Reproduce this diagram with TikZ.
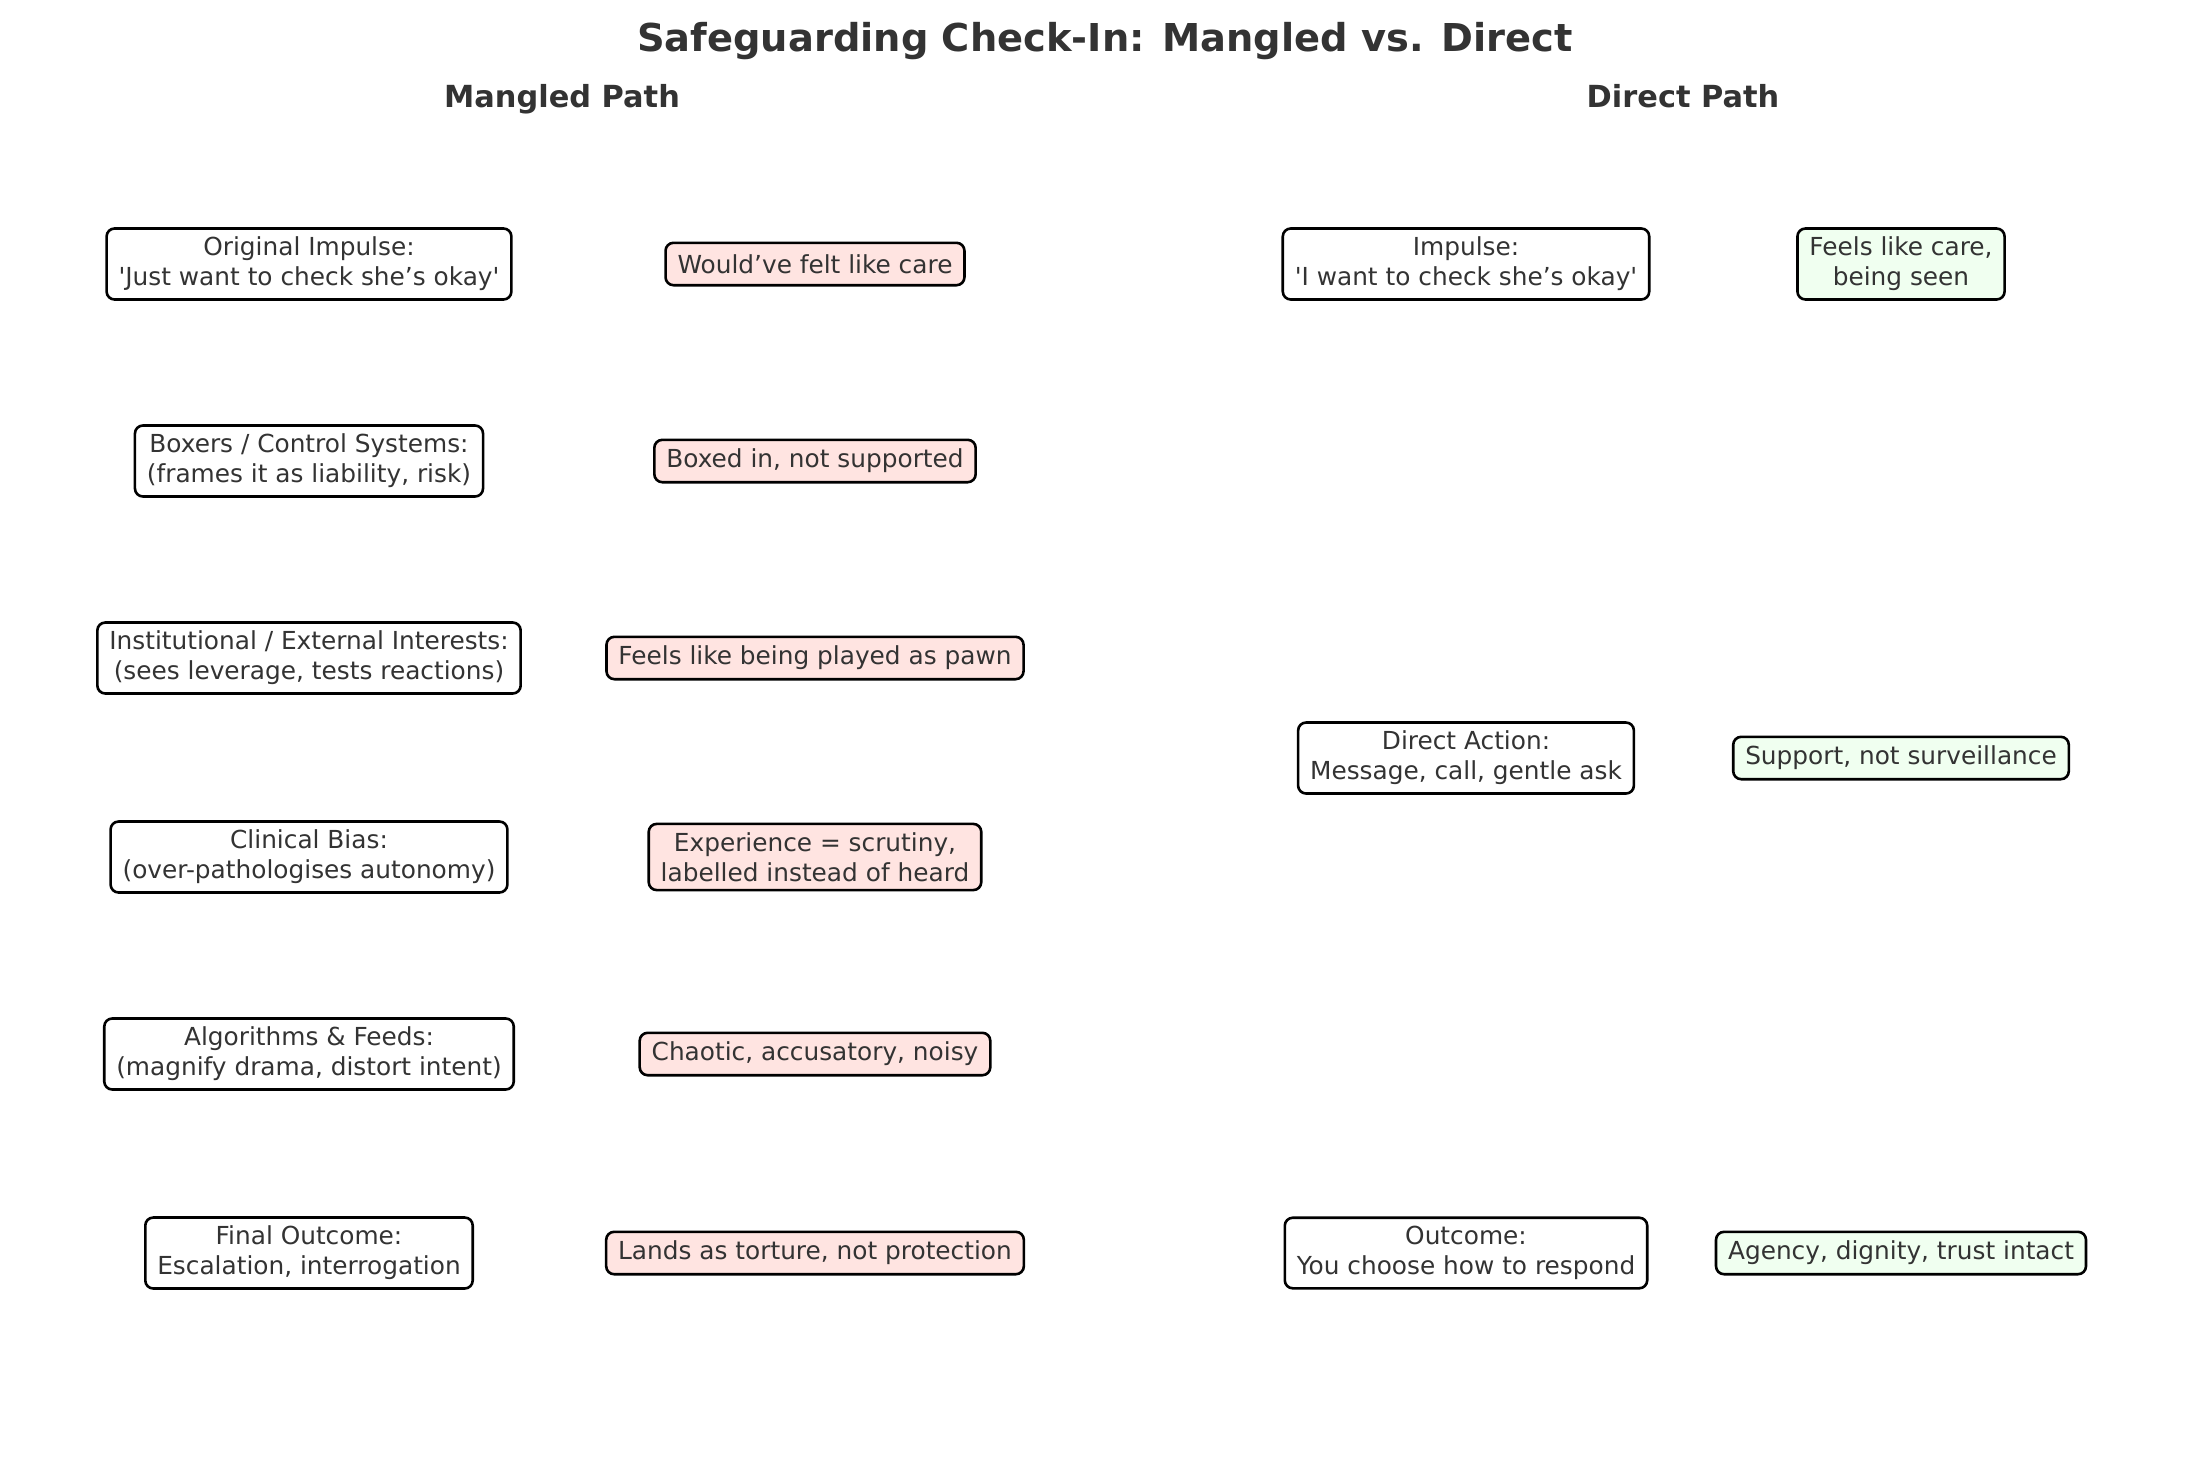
\documentclass[tikz,border=0pt]{standalone}
\usepackage{fontspec}
\setmainfont{DejaVu Sans}[Ligatures=TeXOff]
\definecolor{txt}{HTML}{333333}
\definecolor{pinkfill}{HTML}{FFE4E1}
\definecolor{greenfill}{HTML}{F0FFF0}
\begin{document}
\begin{tikzpicture}[x=0.5pt,y=-0.5pt,
  box/.style={draw=black, line width=1.3pt, rounded corners=4pt, align=center,
    text=txt, font=\fontsize{12.4}{14.9}\selectfont, inner xsep=6pt, inner ysep=4.3pt,
    minimum height=21.2pt, fill=white},
  badbox/.style={box, fill=pinkfill},
  goodbox/.style={box, fill=greenfill},
  heading/.style={text=txt, anchor=base, inner sep=0pt, font=\fontsize{15.2}{18}\selectfont\bfseries},
  titlestyle/.style={text=txt, anchor=base, inner sep=0pt, font=\fontsize{19.2}{23}\selectfont\bfseries}]
\useasboundingbox[fill=white] (0,0) rectangle (2210,1472);
\node[titlestyle] (title) at (1105,51) {Safeguarding Check-In: Mangled vs. Direct};
\node[heading] (hm) at (562,107) {Mangled Path};
\node[heading] (hd) at (1683,107) {Direct Path};

\node[box] (m1) at (309,264) {Original Impulse:\\'Just want to check she’s okay'};
\node[box] (m2) at (309,461) {Boxers / Control Systems:\\(frames it as liability, risk)};
\node[box] (m3) at (309,658) {Institutional / External Interests:\\(sees leverage, tests reactions)};
\node[box] (m4) at (309,857) {Clinical Bias:\\(over-pathologises autonomy)};
\node[box] (m5) at (309,1054) {Algorithms \& Feeds:\\(magnify drama, distort intent)};
\node[box] (m6) at (309,1253) {Final Outcome:\\Escalation, interrogation};

\node[badbox] (e1) at (815,264) {Would’ve felt like care};
\node[badbox] (e2) at (815,461) {Boxed in, not supported};
\node[badbox] (e3) at (815,658) {Feels like being played as pawn};
\node[badbox] (e4) at (815,857) {Experience = scrutiny,\\labelled instead of heard};
\node[badbox] (e5) at (815,1054) {Chaotic, accusatory, noisy};
\node[badbox] (e6) at (815,1253) {Lands as torture, not protection};

\node[box] (d1) at (1466,264) {Impulse:\\'I want to check she’s okay'};
\node[box] (d2) at (1466,758) {Direct Action:\\Message, call, gentle ask};
\node[box] (d3) at (1466,1253) {Outcome:\\You choose how to respond};

\node[goodbox] (g1) at (1901,264) {Feels like care,\\being seen};
\node[goodbox] (g2) at (1901,758) {Support, not surveillance};
\node[goodbox] (g3) at (1901,1253) {Agency, dignity, trust intact};
\end{tikzpicture}
\end{document}
